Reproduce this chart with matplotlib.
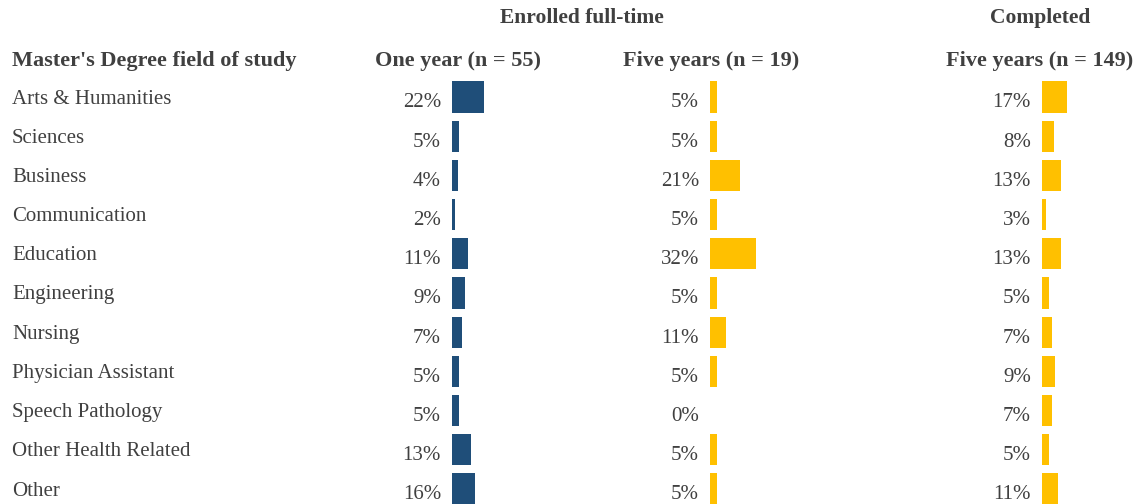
import matplotlib.pyplot as plt

fields = ["Arts & Humanities", "Sciences", "Business", "Communication", "Education",
          "Engineering", "Nursing", "Physician Assistant", "Speech Pathology",
          "Other Health Related", "Other"]
one_year = [22, 5, 4, 2, 11, 9, 7, 5, 5, 13, 16]
five_years = [5, 5, 21, 5, 32, 5, 11, 5, 0, 5, 5]
completed = [17, 8, 13, 3, 13, 5, 7, 9, 7, 5, 11]
col_heads = ["One year (n = 55)", "Five years (n = 19)", "Five years (n = 149)"]

W, H = 1147, 504
TXT = "#404040"
plt.rcParams['font.family'] = ['Liberation Serif', 'DejaVu Serif']

fig = plt.figure(figsize=(W / 100, H / 100), dpi=100)

# row layout in pixels
row0, step = 97, 39.2
top = row0 - step / 2
bot = row0 + step * (len(fields) - 0.5)
px_per_pct = 1.45

def fx(px):
    return px / W

def fy(py):
    return 1 - py / H

series = [(one_year, "#1F4E79", 452, 458),
          (five_years, "#FFC000", 710, 711),
          (completed, "#FFC000", 1042, 1040)]

for (vals, color, x0, hx), head in zip(series, col_heads):
    aw = 120
    ax = fig.add_axes([fx(x0), fy(bot), fx(aw), (bot - top) / H])
    ax.barh(range(len(vals)), vals, height=0.8, color=color)
    ax.set_xlim(0, aw / px_per_pct)
    ax.set_ylim(len(vals) - 0.5, -0.5)
    ax.axis('off')
    for i, v in enumerate(vals):
        ax.annotate(f"{v}%", (0, i), xytext=(-11, -6), textcoords='offset pixels',
                    ha='right', va='center', fontsize=15, color=TXT)
    fig.text(fx(hx), fy(61), head, ha='center', va='center', fontsize=16,
             fontweight='bold', color=TXT)

for i, f in enumerate(fields):
    fig.text(fx(12), fy(row0 + 2 + step * i), f, ha='left', va='center',
             fontsize=15, color=TXT)

fig.text(fx(12), fy(61), "Master's Degree field of study", ha='left', va='center',
         fontsize=16, fontweight='bold', color=TXT)
fig.text(fx(582), fy(18), "Enrolled full-time", ha='center', va='center',
         fontsize=15.5, fontweight='bold', color=TXT)
fig.text(fx(1040), fy(18), "Completed", ha='center', va='center',
         fontsize=15.5, fontweight='bold', color=TXT)

fig.savefig("out.png", dpi=100)
